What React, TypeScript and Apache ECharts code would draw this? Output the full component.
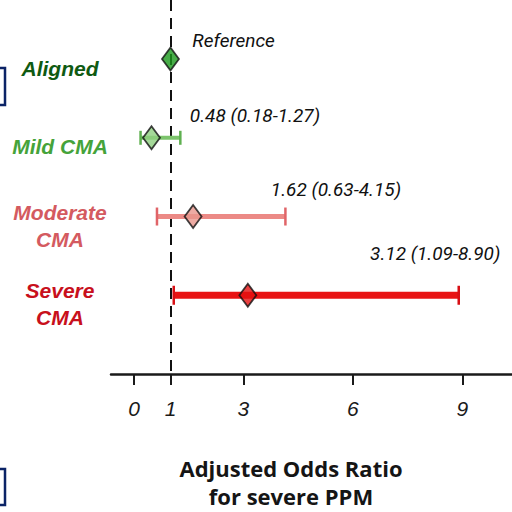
import React, { useEffect, useRef } from "react";
import * as echarts from "echarts";

const categories = ["Aligned", "Mild CMA", "Moderate CMA", "Severe CMA"];
const rowLabels = ["Aligned", "Mild CMA", "Moderate\nCMA", "Severe\nCMA"];
const oddsRatio = [1, 0.48, 1.62, 3.12];
const ciLower: (number | null)[] = [null, 0.18, 0.63, 1.09];
const ciUpper: (number | null)[] = [null, 1.27, 4.15, 8.9];
const annotations = ["Reference", "0.48 (0.18-1.27)", "1.62 (0.63-4.15)", "3.12 (1.09-8.90)"];
const annotationX = [1.6, 1.53, 3.75, 6.47];
const annotationRowShift = [-0.23, -0.28, -0.34, -0.53];
const xTicks = [0, 1, 3, 6, 9];
const referenceValue = 1;

const labelColors = ["#0f5a12", "#45a33a", "#d45a60", "#c8101c"];
const diamondColors = ["#1a981c", "#8fcf80", "#e8968c", "#e41010"];
const barColors = ["#000", "#7cc46c", "#ec8a86", "#e81414"];
const capColors = ["#000", "#5fb050", "#e06468", "#d80f14"];
const barWidths = [0, 4, 5, 7];
const capHeights = [0, 14, 18, 19];

export default function App() {
  const ref = useRef<HTMLDivElement>(null);
  useEffect(() => {
    if (!ref.current) return;
    const chart = echarts.init(ref.current, null, { renderer: "svg" });
    const ciData = categories
      .map((_, i) => [i, ciLower[i], ciUpper[i]])
      .filter((d) => d[1] != null);
    const option: any = {
      animation: false,
      grid: { left: 111, right: 0, top: 0, height: 374, outerBoundsMode: "none", containLabel: false },
      xAxis: {
        type: "value",
        min: -0.63,
        max: 10.36,
        splitLine: { show: false },
        axisLine: { show: true, onZero: false, lineStyle: { color: "#1a1a1a", width: 2.5 } },
        axisTick: { show: true, customValues: xTicks, length: 11, lineStyle: { color: "#1a1a1a", width: 2 } },
        axisLabel: {
          customValues: xTicks,
          fontStyle: "italic",
          fontSize: 21,
          color: "#1a1a1a",
          margin: 24,
          fontFamily: "Liberation Sans",
        },
      },
      yAxis: { type: "value", inverse: true, min: -0.75, max: 4.0, show: false },
      graphic: [
        { type: "rect", shape: { x: -4, y: 68, width: 9, height: 37 }, style: { fill: "none", stroke: "#0b2366", lineWidth: 2.5 } },
        { type: "rect", shape: { x: -4, y: 469, width: 9, height: 36 }, style: { fill: "none", stroke: "#0b2366", lineWidth: 2.5 } },
        {
          type: "text",
          x: 291,
          y: 482,
          style: {
            text: "Adjusted Odds Ratio\nfor severe PPM",
            fontFamily: "Open Sans",
            fontWeight: "bold",
            fontSize: 22,
            lineHeight: 28,
            fill: "#151515",
            align: "center",
            verticalAlign: "middle",
          },
        },
      ],
      series: [
        {
          type: "custom",
          z: 2,
          clip: false,
          data: ciData,
          encode: { x: [1, 2], y: 0 },
          renderItem: (params: any, api: any) => {
            const i = api.value(0);
            const p1 = api.coord([api.value(1), i]);
            const p2 = api.coord([api.value(2), i]);
            const h = capHeights[i] / 2;
            return {
              type: "group",
              children: [
                { type: "line", shape: { x1: p1[0], y1: p1[1], x2: p2[0], y2: p2[1] }, style: { stroke: barColors[i], lineWidth: barWidths[i] } },
                { type: "line", shape: { x1: p1[0], y1: p1[1] - h, x2: p1[0], y2: p1[1] + h }, style: { stroke: capColors[i], lineWidth: 2.5 } },
                { type: "line", shape: { x1: p2[0], y1: p2[1] - h, x2: p2[0], y2: p2[1] + h }, style: { stroke: capColors[i], lineWidth: 2.5 } },
              ],
            };
          },
        },
        {
          type: "scatter",
          z: 5,
          symbol: "diamond",
          symbolSize: [17, 23],
          data: oddsRatio.map((v, i) => ({
            value: [v, i],
            itemStyle: { color: diamondColors[i], borderColor: "#111", borderWidth: 1.8 },
          })),
          markLine: {
            silent: true,
            symbol: "none",
            label: { show: false },
            lineStyle: { color: "#111", width: 2, type: [11, 7] },
            data: [{ xAxis: referenceValue }],
            z: 1,
          },
        },
        {
          type: "custom",
          z: 6,
          clip: false,
          data: categories.map((_, i) => [i]),
          encode: { y: 0 },
          renderItem: (params: any, api: any) => {
            const i = api.value(0);
            const p = api.coord([0, i]);
            const a = api.coord([annotationX[i], i + annotationRowShift[i]]);
            return {
              type: "group",
              children: [
                {
                  type: "text",
                  x: 60,
                  y: p[1] + 9,
                  style: {
                    text: rowLabels[i],
                    fontFamily: "Liberation Sans",
                    fontWeight: "bold",
                    fontStyle: "italic",
                    fontSize: 21,
                    lineHeight: 27,
                    fill: labelColors[i],
                    align: "center",
                    verticalAlign: "middle",
                  },
                },
                {
                  type: "text",
                  x: a[0],
                  y: a[1],
                  style: {
                    text: annotations[i],
                    fontFamily: "Roboto",
                    fontWeight: "normal",
                    fontStyle: "italic",
                    fontSize: 19,
                    fill: "#111",
                    align: "left",
                    verticalAlign: "middle",
                  },
                },
              ],
            };
          },
        },
      ],
    };
    chart.setOption(option);
    return () => chart.dispose();
  }, []);
  return <div ref={ref} style={{ position: "fixed", left: 0, top: 0, width: 512, height: 512, background: "#fff" }} />;
}
